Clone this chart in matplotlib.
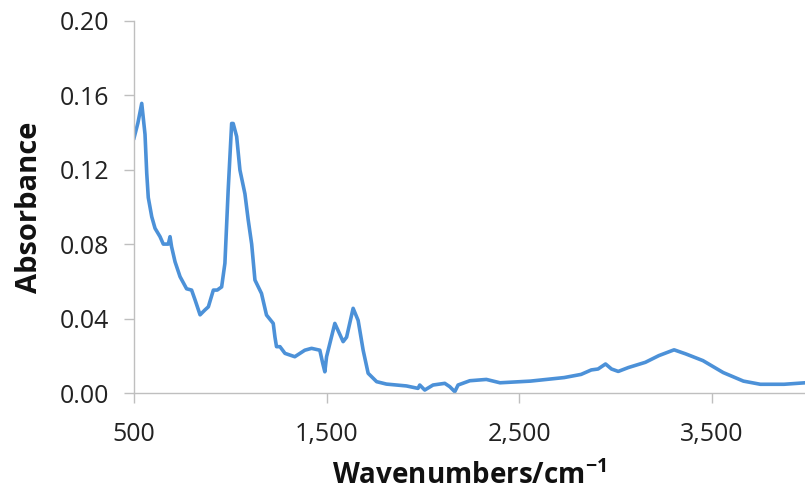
import matplotlib.pyplot as plt

# IR spectrum
wavenumber = [500, 520, 540, 557, 566, 574, 592, 609, 635, 652, 678, 687, 695, 713, 739,
              773, 799, 817, 843, 868, 886, 912, 932, 955, 972, 989, 1007, 1015, 1033,
              1050, 1076, 1093, 1111, 1128, 1162, 1188, 1223, 1232, 1240, 1258, 1284,
              1335, 1387, 1422, 1465, 1480, 1491, 1500, 1543, 1586, 1604, 1638, 1664,
              1690, 1716, 1760, 1811, 1915, 1975, 1984, 2010, 2053, 2114, 2140, 2166,
              2183, 2244, 2330, 2401, 2559, 2734, 2822, 2875, 2910, 2949, 2980, 3015,
              3068, 3156, 3226, 3305, 3366, 3455, 3560, 3665, 3753, 3876, 4000]
absorbance = [0.137, 0.145, 0.1556, 0.139, 0.118, 0.105, 0.0947, 0.0885, 0.084, 0.080,
              0.080, 0.084, 0.0786, 0.0705, 0.0625, 0.056, 0.0553, 0.050, 0.042, 0.0446,
              0.0463, 0.0553, 0.0553, 0.057, 0.0697, 0.109, 0.1448, 0.1448, 0.1378,
              0.1198, 0.107, 0.093, 0.080, 0.0607, 0.0535, 0.0419, 0.0374, 0.030,
              0.0249, 0.0249, 0.0213, 0.0195, 0.023, 0.024, 0.023, 0.016, 0.0114,
              0.0195, 0.0374, 0.0276, 0.030, 0.0455, 0.039, 0.023, 0.0106, 0.0061,
              0.0048, 0.0038, 0.0025, 0.0043, 0.0016, 0.0043, 0.0052, 0.0034, 0.0007,
              0.0043, 0.0066, 0.0073, 0.0055, 0.0064, 0.0083, 0.010, 0.0124, 0.0129,
              0.0156, 0.0129, 0.0116, 0.0137, 0.0165, 0.0201, 0.0232, 0.021, 0.0174,
              0.011, 0.0064, 0.0047, 0.0047, 0.0056]

x_ticks = [500, 1500, 2500, 3500]
x_tick_labels = ['500', '1,500', '2,500', '3,500']
y_ticks = [0.00, 0.04, 0.08, 0.12, 0.16, 0.20]

plt.rcParams['font.family'] = ['Open Sans', 'DejaVu Sans']
plt.rcParams['mathtext.fontset'] = 'custom'
plt.rcParams['mathtext.rm'] = 'Open Sans:bold'
plt.rcParams['mathtext.bf'] = 'Open Sans:bold'

fig = plt.figure(figsize=(8.05, 4.98), dpi=100)
ax = fig.add_axes([0.1665, 0.2108, 0.8335, 0.7476])

ax.plot(wavenumber, absorbance, color='#4C91D8', linewidth=2.6, solid_joinstyle='round')

ax.set_xlim(500, 3985)
ax.set_ylim(0, 0.20)
ax.set_xticks(x_ticks)
ax.set_xticklabels(x_tick_labels)
ax.set_yticks(y_ticks)
ax.set_yticklabels([f'{v:.2f}' for v in y_ticks])

for side in ['top', 'right']:
    ax.spines[side].set_visible(False)
for side in ['left', 'bottom']:
    ax.spines[side].set_color('#BFBFBF')
    ax.spines[side].set_linewidth(1.0)

ax.tick_params(axis='both', colors='#BFBFBF', labelcolor='#222222', labelsize=18, length=7, width=1.0)
ax.tick_params(axis='y', pad=11)
ax.tick_params(axis='x', pad=14)

ax.set_xlabel('Wavenumbers/cm$^{-1}$', fontsize=20, fontweight='bold', color='#111111', labelpad=10)
ax.set_ylabel('Absorbance', fontsize=21, fontweight='bold', color='#111111', labelpad=11)

fig.savefig('out.png', dpi=100)
